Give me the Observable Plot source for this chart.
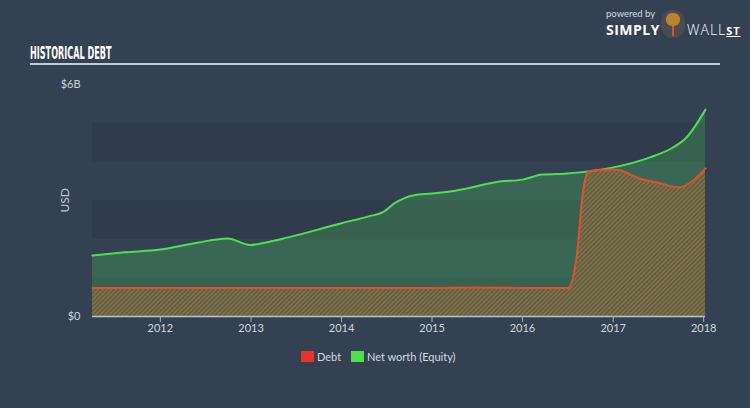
<!DOCTYPE html>
<html>
<head>
<meta charset="utf-8">
<script src="https://cdn.jsdelivr.net/npm/d3@7"></script>
<script src="https://cdn.jsdelivr.net/npm/@observablehq/plot@0.6"></script>
<style>
  html, body { margin: 0; padding: 0; background: #344152; }
  #wrap { position: relative; width: 750px; height: 408px; background: #344152; overflow: hidden; font-family: "Lato", "Open Sans", sans-serif; }
  #header { position: relative; height: 70px; }
  #title { position: absolute; left: 30px; top: 42px; font-family: "DejaVu Sans Condensed", "Liberation Sans Narrow", sans-serif; font-weight: bold; font-size: 18px; color: #ffffff; transform: scaleX(0.5); transform-origin: left; letter-spacing: 0px; white-space: nowrap; }
  #rule { position: absolute; left: 30px; top: 63px; width: 690px; height: 2px; background: #c5ccd4; }
  #logo { position: absolute; left: 606px; top: 8px; color: #ffffff; }
  #logo .pb { position: absolute; left: 0; top: 0; font-size: 9.5px; color: #d6dbe0; white-space: nowrap; }
  #logo .s { position: absolute; left: 0; top: 12px; font-size: 14px; font-weight: bold; letter-spacing: 0.5px; white-space: nowrap; font-family: "Open Sans", sans-serif; }
  #logo .bull { position: absolute; left: 55px; top: 2px; width: 24px; height: 28px; border-radius: 12px; background: #4a4c52; overflow: hidden; }
  #logo .bull .face { position: absolute; left: 5px; top: 3px; width: 14px; height: 13px; border-radius: 6px; background: #b88432; }
  #logo .bull .tie { position: absolute; left: 11px; top: 16px; width: 2px; height: 10px; background: #e0502a; }
  #logo .w { position: absolute; left: 81px; top: 12px; font-size: 14px; letter-spacing: 1px; white-space: nowrap; font-family: "Open Sans", sans-serif; font-weight: 300; }
  #logo .w u { font-size: 11px; font-weight: bold; }
  #legend { position: relative; height: 20px; font-size: 11px; color: #d4dae0; }
  .li { position: absolute; top: 0px; height: 14px; line-height: 14px; white-space: nowrap; }
  .sw { display: inline-block; width: 13px; height: 11px; vertical-align: -1px; margin-right: 3px; }
</style>
</head>
<body>
<div id="wrap">
  <div id="header">
    <div id="logo">
      <div class="pb">powered by</div>
      <div class="s">SIMPLY</div>
      <div class="bull"><div class="face"></div><div class="tie"></div></div>
      <div class="w">WALL<u>ST</u></div>
    </div>
    <div id="title">HISTORICAL DEBT</div>
    <div id="rule"></div>
  </div>
  <div id="chart"></div>
  <div id="legend"></div>
</div>
<script>
// ---- data (decimal years, values in $B) ----
const equityYears = [2011.25, 2011.61, 2012.0, 2012.41, 2012.74, 2012.99, 2013.15, 2013.4, 2013.98, 2014.3, 2014.45, 2014.6, 2014.79, 2015.0, 2015.27, 2015.75, 2016.0, 2016.22, 2016.49, 2016.99, 2017.4, 2017.66, 2017.81, 2018.02];
const equityValues = [1.58, 1.66, 1.73, 1.91, 2.02, 1.85, 1.91, 2.04, 2.40, 2.59, 2.69, 2.95, 3.13, 3.18, 3.26, 3.49, 3.54, 3.67, 3.70, 3.85, 4.11, 4.37, 4.63, 5.35];

const debtYears = [2011.25, 2012.0, 2013.0, 2014.0, 2015.0, 2015.5, 2016.0, 2016.5, 2016.6, 2016.66, 2016.73, 2016.99, 2017.07, 2017.29, 2017.48, 2017.73, 2017.84, 2018.02];
const debtValues = [0.74, 0.74, 0.74, 0.74, 0.74, 0.75, 0.74, 0.74, 1.6, 3.1, 3.76, 3.80, 3.78, 3.57, 3.47, 3.34, 3.44, 3.83];

const xDomainYears = [2011.25, 2018.02];
const yTickValues = [0, 6];
const yTickLabels = ["$0", "$6B"];
const tickYears = [2012, 2013, 2014, 2015, 2016, 2017, 2018];
const bandRanges = [[4, 5], [2, 3], [0, 1]];
const seriesNames = ["Debt", "Net worth (Equity)"];
const seriesColors = ["#e8332c", "#4fe04f"];

const toDate = (y) => {
  const yr = Math.floor(y);
  const start = Date.UTC(yr, 0, 1), end = Date.UTC(yr + 1, 0, 1);
  return new Date(start + (y - yr) * (end - start));
};

const equity = equityYears.map((y, i) => ({date: toDate(y), value: equityValues[i]}));
const debt = debtYears.map((y, i) => ({date: toDate(y), value: debtValues[i]}));
const x0 = toDate(xDomainYears[0]), x1 = toDate(xDomainYears[1]);
const bands = bandRanges.map(([a, b]) => ({y1: a, y2: b, x1: x0, x2: x1}));

const chart = Plot.plot({
  width: 750,
  height: 280,
  marginLeft: 92,
  marginRight: 45,
  marginTop: 14,
  marginBottom: 34,
  style: {background: "transparent", color: "#cdd4dc", fontSize: "11px", fontFamily: "Lato, 'Open Sans', sans-serif"},
  x: {type: "utc", domain: [x0, x1]},
  y: {domain: [0, 6]},
  marks: [
    Plot.rect(bands, {x1: "x1", x2: "x2", y1: "y1", y2: "y2", fill: "#303c4b"}),
    Plot.areaY(equity, {x: "date", y: "value", fill: "#46b35c", fillOpacity: 0.32, curve: "monotone-x"}),
    Plot.areaY(debt, {x: "date", y: "value", fill: "url(#hatch)", curve: "monotone-x"}),
    Plot.lineY(equity, {x: "date", y: "value", stroke: seriesColors[1], strokeWidth: 2, curve: "monotone-x"}),
    Plot.lineY(debt, {x: "date", y: "value", stroke: "#e0512b", strokeWidth: 2, curve: "monotone-x"}),
    Plot.ruleY([0], {stroke: "#b8c2cc", strokeWidth: 1.5}),
    Plot.axisX({ticks: tickYears.map(y => toDate(y)), tickFormat: d3.utcFormat("%Y"), tickSize: 6, tickPadding: 2, stroke: "#a9b4bf", label: null, color: "#d0d7de"}),
    Plot.axisY({ticks: yTickValues, tickFormat: (d) => yTickLabels[yTickValues.indexOf(d)], tickSize: 0, tickPadding: 12, label: null}),
    Plot.text(["USD"], {frameAnchor: "left", rotate: -90, dx: -27, dy: 12, fill: "#c3cad2", fontSize: 12})
  ]
});

d3.select(chart).insert("defs", ":first-child").html(
  '<pattern id="hatch" width="3.2" height="3.2" patternUnits="userSpaceOnUse" patternTransform="rotate(45)">' +
  '<rect width="3.2" height="3.2" fill="#3f7050"/><rect width="1.3" height="3.2" fill="#b95c36"/></pattern>'
);
document.getElementById("chart").appendChild(chart);

// legend
const legend = document.getElementById("legend");
const lpos = [301, 351];
seriesNames.forEach((name, i) => {
  const d = document.createElement("div");
  d.className = "li";
  d.style.left = lpos[i] + "px";
  d.innerHTML = `<span class="sw" style="background:${seriesColors[i]}"></span>${name}`;
  legend.appendChild(d);
});
</script>
</body>
</html>
